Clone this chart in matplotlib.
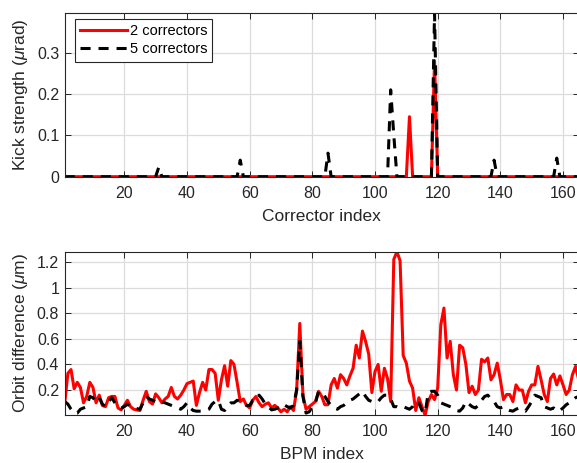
import numpy as np
import matplotlib
matplotlib.use("Agg")
import matplotlib.pyplot as plt

plt.rcParams['font.family'] = ['Liberation Sans', 'DejaVu Sans']
plt.rcParams['mathtext.fontset'] = 'custom'
plt.rcParams['mathtext.rm'] = 'Liberation Sans'
plt.rcParams['mathtext.it'] = 'Liberation Sans:italic'

# ---------------- data ----------------
n_corr = 165
n_bpm = 165
corr_index = np.arange(1, n_corr + 1)
bpm_index = np.arange(1, n_bpm + 1)

# nonzero corrector kicks (urad)
kick2_idx = [111, 119]
kick2_val = [0.145, 0.28]
kick5_idx = [31, 57, 85, 105, 106, 119, 138, 158]
kick5_val = [0.023, 0.04, 0.057, 0.21, 0.10, 0.395, 0.04, 0.045]

orbit2 = [0.10, 0.33, 0.36, 0.21, 0.26, 0.22, 0.10, 0.15, 0.26, 0.22,
          0.10, 0.16, 0.08, 0.07, 0.14, 0.15, 0.15, 0.06, 0.045, 0.08,
          0.12, 0.07, 0.05, 0.045, 0.04, 0.12, 0.19, 0.11, 0.09, 0.17,
          0.14, 0.10, 0.13, 0.15, 0.22, 0.15, 0.13, 0.16, 0.20, 0.25,
          0.26, 0.27, 0.08, 0.18, 0.26, 0.20, 0.36, 0.36, 0.33, 0.12,
          0.28, 0.39, 0.23, 0.43, 0.40, 0.26, 0.11, 0.13, 0.08, 0.06,
          0.12, 0.15, 0.10, 0.07, 0.09, 0.10, 0.06, 0.08, 0.06, 0.03,
          0.05, 0.03, 0.07, 0.04, 0.20, 0.72, 0.16, 0.05, 0.07, 0.09,
          0.11, 0.19, 0.15, 0.085, 0.085, 0.24, 0.29, 0.215, 0.32, 0.29,
          0.24, 0.31, 0.37, 0.55, 0.45, 0.66, 0.58, 0.48, 0.18, 0.345,
          0.40, 0.19, 0.37, 0.29, 0.11, 1.22, 1.28, 1.21, 0.47, 0.41,
          0.27, 0.215, 0.04, 0.14, 0.07, 0.005, 0.11, 0.165, 0.125, 0.215,
          0.71, 0.84, 0.45, 0.58, 0.32, 0.20, 0.55, 0.53, 0.40, 0.18,
          0.23, 0.165, 0.20, 0.44, 0.42, 0.45, 0.28, 0.32, 0.41, 0.28,
          0.125, 0.165, 0.165, 0.11, 0.24, 0.20, 0.20, 0.10, 0.19, 0.24,
          0.24, 0.385, 0.28, 0.165, 0.11, 0.29, 0.325, 0.24, 0.31, 0.24,
          0.165, 0.20, 0.32, 0.385, 0.28]

orbit5 = [0.11, 0.09, 0.05, 0.02, 0.02, 0.05, 0.06, 0.07, 0.15, 0.14,
          0.11, 0.14, 0.09, 0.07, 0.11, 0.14, 0.10, 0.07, 0.06, 0.07,
          0.09, 0.07, 0.06, 0.055, 0.05, 0.10, 0.15, 0.13, 0.12, 0.11,
          0.12, 0.11, 0.10, 0.09, 0.08, 0.07, 0.06, 0.05, 0.07, 0.10,
          0.06, 0.04, 0.035, 0.035, 0.035, 0.04, 0.05, 0.09, 0.11, 0.12,
          0.05, 0.04, 0.08, 0.10, 0.10, 0.12, 0.11, 0.09, 0.08, 0.08,
          0.12, 0.12, 0.16, 0.13, 0.09, 0.07, 0.045, 0.05, 0.06, 0.06,
          0.085, 0.07, 0.06, 0.08, 0.20, 0.58, 0.15, 0.02, 0.03, 0.07,
          0.10, 0.19, 0.18, 0.15, 0.11, 0.08, 0.06, 0.05, 0.07, 0.08,
          0.10, 0.12, 0.13, 0.15, 0.17, 0.19, 0.15, 0.12, 0.11, 0.12,
          0.11, 0.14, 0.16, 0.16, 0.13, 0.07, 0.07, 0.06, 0.07, 0.06,
          0.05, 0.07, 0.11, 0.10, 0.04, 0.02, 0.18, 0.19, 0.19, 0.16,
          0.10, 0.09, 0.08, 0.07, 0.06, 0.04, 0.035, 0.06, 0.11, 0.09,
          0.07, 0.06, 0.08, 0.12, 0.15, 0.16, 0.13, 0.11, 0.07, 0.06,
          0.07, 0.05, 0.04, 0.035, 0.05, 0.06, 0.045, 0.035, 0.07, 0.11,
          0.16, 0.15, 0.14, 0.07, 0.06, 0.05, 0.06, 0.035, 0.04, 0.06,
          0.085, 0.10, 0.12, 0.14, 0.15]

series_labels = ['2 correctors', '5 correctors']
x_ticks = [20, 40, 60, 80, 100, 120, 140, 160]
kick_ticks = [0, 0.1, 0.2, 0.3]
kick_ticklabels = ['0', '0.1', '0.2', '0.3']
orbit_ticks = [0.2, 0.4, 0.6, 0.8, 1.0, 1.2]
orbit_ticklabels = ['0.2', '0.4', '0.6', '0.8', '1', '1.2']

kick2 = np.zeros(n_corr)
kick2[np.array(kick2_idx) - 1] = kick2_val
kick5 = np.zeros(n_corr)
kick5[np.array(kick5_idx) - 1] = kick5_val

# ---------------- figure ----------------
W, H = 577, 463
fig = plt.figure(figsize=(W / 100, H / 100), dpi=100)

axc = '#262626'
gridc = '#dcdcdc'

def px_axes(l, r, t, b):
    return [l / W, 1 - b / H, (r - l) / W, (b - t) / H]

ax1 = fig.add_axes(px_axes(64.75, 578.7, 13.3, 176.7))
ax2 = fig.add_axes(px_axes(64.75, 578.7, 251.7, 415.0))

for ax in (ax1, ax2):
    ax.set_axisbelow(True)
    ax.grid(True, color=gridc, linewidth=0.9)
    ax.tick_params(direction='in', length=4, width=0.7, colors=axc,
                   labelsize=11.5, top=True, right=True, pad=4)
    ax.tick_params(axis='x', pad=6.5)
    for s in ax.spines.values():
        s.set_color(axc)
        s.set_linewidth(0.8)
    ax.set_xlim(1, 165)
    ax.set_xticks(x_ticks)

lw = 2.2
dash = (3.3, 2.6)

ax1.plot(corr_index, kick2, color='red', lw=lw, label=series_labels[0])
ax1.plot(corr_index, kick5, color='black', lw=lw, dashes=dash, label=series_labels[1])
ax1.set_ylim(0, 0.395)
ax1.set_yticks(kick_ticks)
ax1.set_yticklabels(kick_ticklabels)
ax1.set_xlabel('Corrector index', fontsize=12.5, color=axc, labelpad=6)
ax1.set_ylabel(r'Kick strength ($\mu$rad)', fontsize=12.5, color=axc, labelpad=5)
leg = ax1.legend(loc='upper left', bbox_to_anchor=(0.02, 0.965), fontsize=10.5,
                 frameon=True, fancybox=False, framealpha=1, edgecolor=axc,
                 handlelength=3.2, handletextpad=0.2, borderpad=0.35,
                 labelspacing=0.3, borderaxespad=0)
leg.get_frame().set_linewidth(0.8)

ax2.plot(bpm_index, orbit2, color='red', lw=lw, label=series_labels[0])
ax2.plot(bpm_index, orbit5, color='black', lw=lw, dashes=dash, label=series_labels[1])
ax2.set_ylim(0.005, 1.28)
ax2.set_yticks(orbit_ticks)
ax2.set_yticklabels(orbit_ticklabels)
ax2.set_xlabel('BPM index', fontsize=12.5, color=axc, labelpad=6)
ax2.set_ylabel(r'Orbit difference ($\mu$m)', fontsize=12.5, color=axc, labelpad=5)

fig.savefig('out.png', dpi=100)
